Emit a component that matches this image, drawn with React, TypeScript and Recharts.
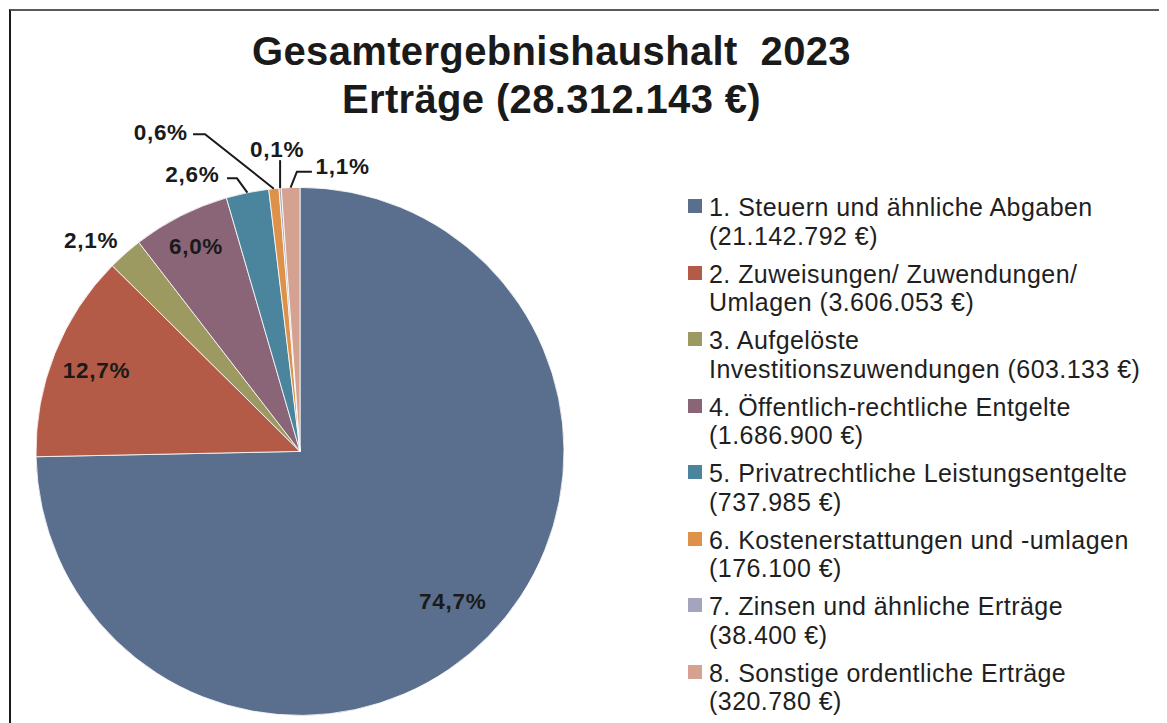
import React from 'react';
import { PieChart, Pie, Cell, Legend } from 'recharts';

const names = [
    '1. Steuern und ähnliche Abgaben',
    '2. Zuweisungen/ Zuwendungen/ Umlagen',
    '3. Aufgelöste Investitionszuwendungen',
    '4. Öffentlich-rechtliche Entgelte',
    '5. Privatrechtliche Leistungsentgelte',
    '6. Kostenerstattungen und -umlagen',
    '7. Zinsen und ähnliche Erträge',
    '8. Sonstige ordentliche Erträge'
];
const values = [21142792, 3606053, 603133, 1686900, 737985, 176100, 38400, 320780];
const colors = ['#5A6E8D', '#B35B46', '#9C9961', '#8A6577', '#4A849D', '#DE9149', '#A4A4BF', '#D5A191'];

const TITLE_1 = 'Gesamtergebnishaushalt\u00A0\u00A02023';
const TITLE_2 = 'Erträge (28.312.143 €)';

const FONT = '"Liberation Sans", Arial, sans-serif';
const RADIAN = Math.PI / 180;

// label placement per slice (inside: radius factor; outside: offsets from arc edge)
type LabelLayout =
    | { kind: 'in'; r: number }
    | { kind: 'out'; line: number[][]; text: number[]; anchor: 'start' | 'middle' | 'end' };

const labelLayout: LabelLayout[] = [
    { kind: 'in', r: 0.81 },
    { kind: 'in', r: 0.83 },
    { kind: 'out', line: [], text: [-34, -13], anchor: 'middle' },
    { kind: 'in', r: 0.87 },
    { kind: 'out', line: [[-10.4, -14.4], [-20.4, -14.4]], text: [-28, -18.5], anchor: 'end' },
    { kind: 'out', line: [[-68.8, -54.4], [-80.8, -54.4]], text: [-86, -56], anchor: 'end' },
    { kind: 'out', line: [[0, -28]], text: [-3, -39], anchor: 'middle' },
    { kind: 'out', line: [[6.3, -15.9], [21.3, -15.9]], text: [25, -21], anchor: 'start' }
];

const data = names.map((name, i) => ({ name, value: values[i] }));
const total = values.reduce((a, b) => a + b, 0);

const fmtEuro = (v: number) => v.toLocaleString('de-DE') + '\u00A0€';
const fmtPct = (p: number) => (p * 100).toFixed(1).replace('.', ',') + '%';

const renderLabel = (props: any) => {
    const { cx, cy, midAngle, outerRadius, index, value } = props;
    const layout = labelLayout[index];
    const cos = Math.cos(-midAngle * RADIAN);
    const sin = Math.sin(-midAngle * RADIAN);
    const text = fmtPct(value / total);
    const textStyle = { fontFamily: FONT, fontSize: 22.5, fontWeight: 700, fill: '#1a1a1a', letterSpacing: '0.7px' };
    if (layout.kind === 'in') {
        const r = outerRadius * layout.r;
        return (
            <text x={cx + r * cos} y={cy + r * sin} textAnchor="middle" dominantBaseline="central" style={textStyle}>
                {text}
            </text>
        );
    }
    const ex = cx + outerRadius * cos;
    const ey = cy + outerRadius * sin;
    const pts = [[0, 0], ...layout.line].map(([dx, dy]) => `${ex + dx},${ey + dy}`).join(' ');
    return (
        <g>
            {layout.line.length > 0 && <polyline points={pts} fill="none" stroke="#1a1a1a" strokeWidth={2} />}
            <text
                x={ex + layout.text[0]}
                y={ey + layout.text[1]}
                textAnchor={layout.anchor}
                dominantBaseline="central"
                style={textStyle}
            >
                {text}
            </text>
        </g>
    );
};

const renderLegend = () => (
    <div style={{ fontFamily: FONT, fontSize: 25, lineHeight: '28.5px', letterSpacing: '0.45px', color: '#1f1f1f' }}>
        {data.map((d, i) => (
            <div key={d.name} style={{ display: 'flex', marginBottom: 9.5 }}>
                <div style={{ width: 14, height: 14, marginTop: 6, marginRight: 7, background: colors[i], flexShrink: 0 }} />
                <div style={{ width: 438 }}>
                    {d.name} ({fmtEuro(d.value)})
                </div>
            </div>
        ))}
    </div>
);

const App: React.FC = () => {
    return (
        <div
            style={{
                position: 'relative',
                marginLeft: 1,
                marginTop: 1,
                width: 1148,
                height: 713,
                borderTop: '2px solid #5a5a5a',
                borderLeft: '2px solid #1a1a1a',
                borderRight: '2px solid #1a1a1a',
                background: '#fff'
            }}
        >
            <PieChart width={1148} height={713} margin={{ top: 0, right: 0, bottom: 0, left: 0 }}>
                <Pie
                    data={data}
                    dataKey="value"
                    nameKey="name"
                    cx={289}
                    cy={440.4}
                    outerRadius={264}
                    startAngle={90}
                    endAngle={-270}
                    stroke="#ffffff"
                    strokeWidth={0.8}
                    label={renderLabel}
                    labelLine={false}
                    isAnimationActive={false}
                >
                    {data.map((entry, index) => (
                        <Cell key={`cell-${index}`} fill={colors[index]} />
                    ))}
                </Pie>
                <Legend
                    layout="vertical"
                    align="right"
                    verticalAlign="top"
                    content={renderLegend}
                    wrapperStyle={{ position: 'absolute', left: 677, top: 182, width: 470 }}
                />
            </PieChart>
            <div
                style={{
                    position: 'absolute',
                    top: 16,
                    left: 0,
                    width: 1081,
                    textAlign: 'center',
                    fontFamily: FONT,
                    fontSize: 40,
                    fontWeight: 700,
                    lineHeight: '48px',
                    letterSpacing: '0.35px',
                    color: '#1a1a1a'
                }}
            >
                <div>{TITLE_1}</div>
                <div>{TITLE_2}</div>
            </div>
        </div>
    );
};

export default App;
